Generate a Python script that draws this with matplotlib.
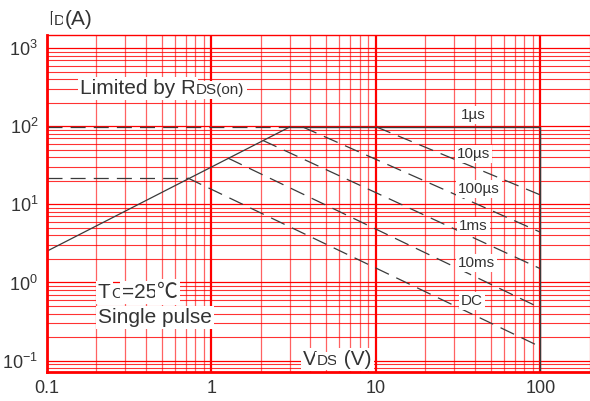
import numpy as np
import matplotlib
matplotlib.use('Agg')
import matplotlib.pyplot as plt
from matplotlib.ticker import LogLocator, NullFormatter

W, H = 590, 401
FONTS = ['Liberation Sans', 'Noto Sans CJK SC', 'DejaVu Sans']
CJK = ['Noto Sans CJK SC', 'DejaVu Sans']
TXT = '#333333'
LINE = '#3a3a3a'

plt.rcParams['font.family'] = FONTS
plt.rcParams['mathtext.fontset'] = 'custom'
plt.rcParams['mathtext.rm'] = 'Liberation Sans'

# safe operating area data
id_pulse_max = 98.0      # A
id_dc_max = 21.8         # A
vds_max = 100.0          # V
rds_v = [0.1, 3.0]
rds_i = [2.5, 98.0]
dc_knee_v = 0.72

pulse_labels = ['1µs', '10µs', '100µs', '1ms', '10ms', 'DC']
pulse_v_start = [10.1, 3.6, 2.06, 1.27, 0.72]
pulse_i_start = [98.0, 98.0, 66.0, 39.0, 21.8]
pulse_i_end = [13.2, 4.4, 1.5, 0.47, 0.15]

x_ticks = [0.1, 1, 10, 100]
x_ticklabels = ['0.1', '1', '10', '100']
y_ticks = [0.1, 1, 10, 100, 1000]

fig = plt.figure(figsize=(W / 100, H / 100), dpi=100)
ax = fig.add_axes([46.5 / W, 1 - 372 / H, 1 - 46.5 / W, (372 - 35) / H])
ax.set_xscale('log')
ax.set_yscale('log')
ax.set_xlim(0.1, 200)
ax.set_ylim(0.0714, 1476)

# red grid
ax.xaxis.set_minor_locator(LogLocator(base=10, subs=np.arange(2, 10)))
ax.yaxis.set_minor_locator(LogLocator(base=10, subs=np.arange(2, 10)))
ax.xaxis.set_minor_formatter(NullFormatter())
ax.yaxis.set_minor_formatter(NullFormatter())
ax.xaxis.grid(True, which='major', color='#ff0000', lw=1.6)
ax.xaxis.grid(True, which='minor', color='#ff2020', lw=0.9, alpha=0.7)
ax.yaxis.grid(True, which='major', color='#ff0000', lw=0.9)
ax.yaxis.grid(True, which='minor', color='#ff0000', lw=0.8, alpha=0.8)
ax.set_axisbelow(True)

for side in ['left', 'bottom']:
    ax.spines[side].set_color('#ff0000')
    ax.spines[side].set_linewidth(2)
ax.spines['top'].set_color('#ff0000')
ax.spines['top'].set_linewidth(1)
ax.spines['right'].set_visible(False)

ax.set_xticks(x_ticks)
ax.set_xticklabels(x_ticklabels)
ax.set_yticks(y_ticks)
ax.tick_params(which='both', length=0, labelsize=13, labelcolor=TXT, pad=6)

dash = (0, (12, 6.5))
# RDS(on) limit
ax.plot(rds_v, rds_i, color=LINE, lw=0.9)
# horizontal limits (dashed part)
ax.plot([0.1, rds_v[1]], [id_pulse_max, id_pulse_max], color=LINE, lw=0.9, ls=dash)
ax.plot([0.1, dc_knee_v], [id_dc_max, id_dc_max], color=LINE, lw=0.9, ls=dash)
# 1us boundary
ax.plot([rds_v[1], vds_max, vds_max], [id_pulse_max, id_pulse_max, 0.01],
        color=LINE, lw=1.0)
# pulse width lines
for v0, i0, i1 in zip(pulse_v_start, pulse_i_start, pulse_i_end):
    ax.plot([v0, vds_max], [i0, i1], color=LINE, lw=0.9, ls=dash)

fig.canvas.draw()
renderer = fig.canvas.get_renderer()
box = dict(fc='white', ec='none', pad=1.5)


def rich_text(x, y, parts):
    # parts: list of (string, size[, family]); x, y in pixels, y = baseline
    for part in parts:
        s, size = part[0], part[1]
        family = part[2] if len(part) > 2 else FONTS
        t = fig.text(x / W, 1 - y / H, s, fontsize=size, color=TXT,
                     family=family, ha='left', va='baseline', bbox=box)
        bb = t.get_window_extent(renderer)
        x += bb.width


rich_text(48, 25, [('I', 15), ('D', 11), ('(A)', 15)])
rich_text(80, 94, [('Limited by R', 15), ('DS(on)', 11)])
rich_text(98, 298, [('T', 15), ('C', 11), ('=25', 15), ('℃', 15, CJK)])
rich_text(98, 323, [('Single pulse', 15)])
rich_text(303, 365, [('V', 15), ('DS', 11), (' (V)', 15)])

label_x = [461, 457, 458, 459, 458, 461]
label_y = [119, 158, 193, 230, 267, 305]
for s, lx, ly in zip(pulse_labels, label_x, label_y):
    rich_text(lx, ly, [(s, 11)])

fig.savefig('out.png', dpi=100)
